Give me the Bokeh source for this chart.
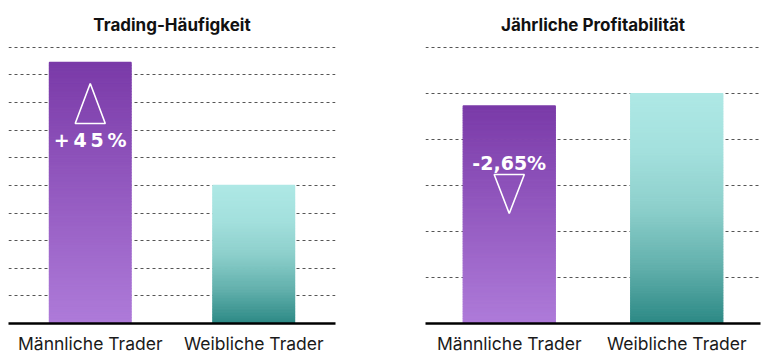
from bokeh.plotting import figure
from bokeh.layouts import row
from bokeh.models import Range1d, FixedTicker
from bokeh.core.properties import value
from bokeh.embed import file_html
from bokeh.resources import INLINE

# ---------------- data ----------------
categories = ["Männliche Trader", "Weibliche Trader"]
titles = ["Trading-Häufigkeit", "Jährliche Profitabilität"]
freq_values = [9.45, 5.0]          # Trading-Häufigkeit (relative units)
profit_values = [4.73, 5.0]        # Jährliche Profitabilität (relative units)
freq_grid_levels = [1, 2, 3, 4, 5, 6, 7, 8, 9, 10]
profit_grid_levels = [1, 2, 3, 4, 5, 6]
freq_note = "+\u20094\u20095\u2009%"
profit_note = "-2,65%"

# ---------------- styles ----------------
MALE_STOPS = [(0.0, "#ae7bd9"), (1.0, "#7a3aa8")]
FEMALE_STOPS = [(0.0, "#2b8884"), (0.25, "#62b0ac"), (0.5, "#8ccfcb"),
                (0.75, "#a3e0dd"), (1.0, "#aee8e5")]
LABEL_FONT = "Inter"
NOTE_FONT = "DejaVu Sans"


def hex2rgb(h):
    h = h.lstrip("#")
    return tuple(int(h[i:i + 2], 16) for i in (0, 2, 4))


def interp(stops, t):
    for (t0, c0), (t1, c1) in zip(stops[:-1], stops[1:]):
        if t0 <= t <= t1:
            f = 0 if t1 == t0 else (t - t0) / (t1 - t0)
            a, b = hex2rgb(c0), hex2rgb(c1)
            return "#%02x%02x%02x" % tuple(round(a[k] + (b[k] - a[k]) * f) for k in range(3))
    return stops[-1][1]


def make_panel(title, values, grid_levels, y_end, bar_width, border_left, border_right):
    p = figure(width=384, height=356, output_backend="svg", toolbar_location=None,
               x_range=Range1d(-0.5, 1.5), y_range=Range1d(0, y_end),
               min_border_left=border_left, min_border_right=border_right,
               min_border_top=44, min_border_bottom=33)
    p.outline_line_color = None
    p.background_fill_color = "white"
    p.border_fill_color = "white"

    p.title.text = title
    p.title.align = "center"
    p.title.text_font = LABEL_FONT
    p.title.text_font_style = "bold"
    p.title.text_font_size = "17px"
    p.title.text_color = "#111111"
    p.title.standoff = 19

    p.yaxis.visible = False
    p.xgrid.visible = False
    p.ygrid.ticker = FixedTicker(ticks=grid_levels)
    p.ygrid.grid_line_color = "#555555"
    p.ygrid.grid_line_dash = "3 3"
    p.ygrid.grid_line_width = 1

    ax = p.xaxis[0]
    ax.ticker = FixedTicker(ticks=[0, 1])
    ax.major_label_overrides = {0: categories[0], 1: categories[1]}
    ax.major_tick_line_color = None
    ax.minor_tick_line_color = None
    ax.major_tick_out = 0
    ax.major_tick_in = 0
    ax.minor_tick_out = 0
    ax.axis_line_color = "#000000"
    ax.axis_line_width = 2.6
    ax.major_label_text_font = LABEL_FONT
    ax.major_label_text_font_size = "17.5px"
    ax.major_label_text_color = "#1a1a1a"
    ax.major_label_standoff = 9

    # gradient bars as stacked slices of each value
    n = 90
    for idx, (v, stops) in enumerate(zip(values, [MALE_STOPS, FEMALE_STOPS])):
        xs, bottoms, tops, colors = [], [], [], []
        for i in range(n):
            xs.append(idx)
            bottoms.append(v * i / n)
            tops.append(v * (i + 1) / n)
            colors.append(interp(stops, (i + 0.5) / n))
        p.vbar(x=xs, bottom=bottoms, top=tops, width=bar_width,
               fill_color=colors, line_color=colors, line_width=1.2)
    return p


# left panel
left = make_panel(titles[0], freq_values, freq_grid_levels, 10.1, 0.5, 8, 49)
# up-triangle and note inside male bar
hw = 0.092
left.patch(x=[0 - hw, 0, 0 + hw, 0 - hw], y=[7.24, 8.69, 7.24, 7.24],
           fill_color=None, line_color="white", line_width=1.6)
left.text(x=[0], y=[6.66], text=[freq_note], text_font=value(NOTE_FONT),
          text_font_style="bold", text_font_size="19px", text_color="white",
          text_align="center", text_baseline="middle")

# right panel
right = make_panel(titles[1], profit_values, profit_grid_levels, 6.065, 0.55, 41, 8)
hw2 = 0.09
right.patch(x=[0 - hw2, 0 + hw2, 0, 0 - hw2], y=[3.24, 3.24, 2.39, 3.24],
            fill_color=None, line_color="white", line_width=1.6)
right.text(x=[0], y=[3.48], text=[profit_note], text_font=value(NOTE_FONT),
           text_font_style="bold", text_font_size="19px", text_color="white",
           text_align="center", text_baseline="middle")

layout = row(left, right)
open("out.html", "w").write(file_html(layout, INLINE))
